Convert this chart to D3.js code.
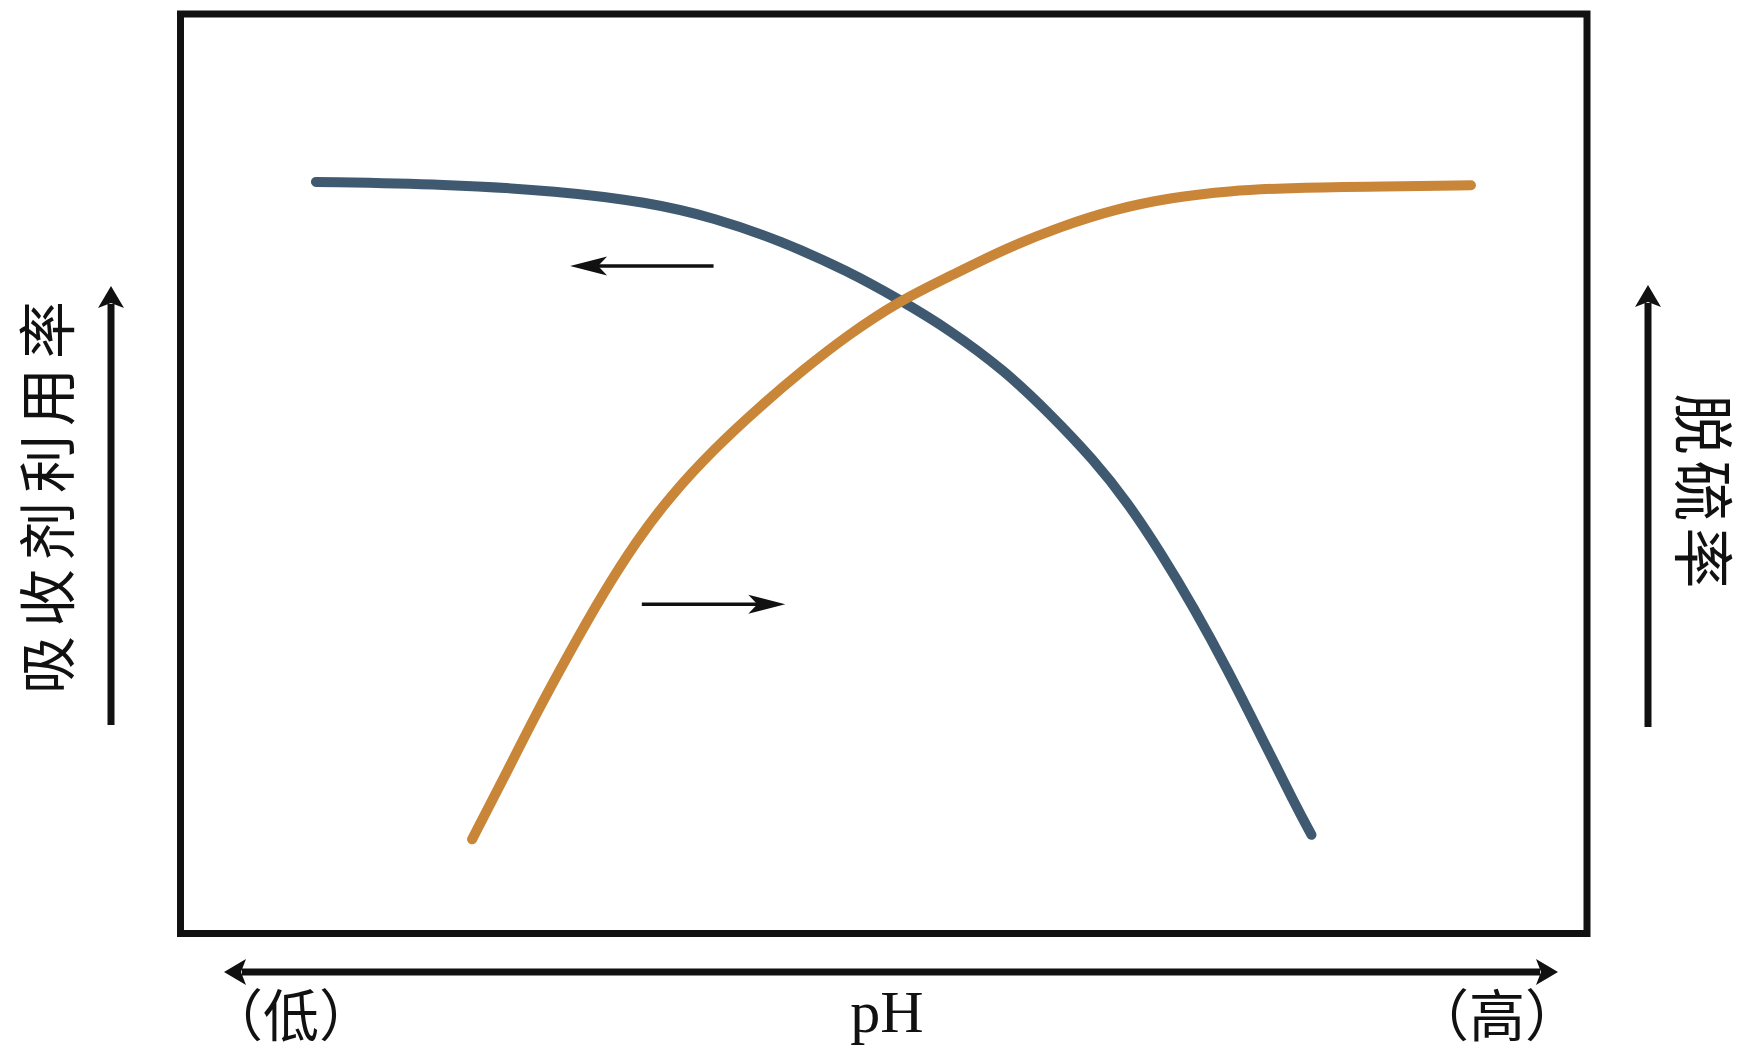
<!DOCTYPE html>
<html>
<head>
<meta charset="utf-8">
<script src="https://cdn.jsdelivr.net/npm/d3@7"></script>
<style>
  html, body { margin: 0; padding: 0; background: #fff; }
  svg { display: block; }
</style>
</head>
<body>
<div id="chart"></div>
<script>
// ---- data (relative units, 0-100 on both axes; the original has no numeric ticks) ----
const sorbentX = [9.63, 18.91, 26.85, 33.19, 37.95, 42.72, 47.47, 51.05, 54.62, 58.59, 61.76, 64.93, 67.32, 69.69, 72.07, 74.45, 76.84, 79.22, 80.41];
const sorbentY = [81.74, 81.49, 80.76, 79.55, 77.85, 75.30, 72.03, 69.00, 65.72, 61.23, 56.61, 51.52, 46.91, 41.44, 35.37, 28.69, 21.41, 14.13, 10.73];
const desulfX  = [20.73, 22.87, 25.26, 27.64, 30.02, 32.40, 34.78, 37.95, 41.13, 44.30, 47.47, 51.05, 54.62, 58.59, 62.55, 66.52, 70.49, 74.45, 79.22, 85.57, 91.75];
const desulfY  = [10.24, 16.55, 23.84, 30.52, 36.95, 42.65, 47.50, 52.73, 57.22, 61.35, 65.11, 68.75, 71.42, 74.45, 76.88, 78.82, 80.04, 80.76, 81.13, 81.25, 81.37];
const leftLabel = "吸收剂利用率";
const rightLabel = "脱硫率";
const xLabel = "pH";
const lowLabel = "（低）";
const highLabel = "（高）";
// annotation arrows: [x from, x to, y] in data units (arrow points to "x to")
const leftArrow  = [37.9, 27.7, 72.6];
const rightArrow = [32.8, 43.0, 35.8];

const W = 1750, H = 1054;
const frame = { left: 180.5, right: 1587, top: 14, bottom: 933.5 };

const svg = d3.select("#chart").append("svg").attr("width", W).attr("height", H);

const x = d3.scaleLinear().domain([0, 100]).range([frame.left, frame.right]);
const y = d3.scaleLinear().domain([0, 100]).range([frame.bottom, frame.top]);

// frame
svg.append("rect")
  .attr("x", x(0)).attr("y", y(100))
  .attr("width", x(100) - x(0)).attr("height", y(0) - y(100))
  .attr("fill", "none").attr("stroke", "#111").attr("stroke-width", 7);

const line = d3.line().x(d => x(d[0])).y(d => y(d[1])).curve(d3.curveBasis);

svg.append("path")
  .datum(sorbentX.map((v, i) => [v, sorbentY[i]]))
  .attr("d", line).attr("fill", "none")
  .attr("stroke", "#3f5a70").attr("stroke-width", 10).attr("stroke-linecap", "round");

svg.append("path")
  .datum(desulfX.map((v, i) => [v, desulfY[i]]))
  .attr("d", line).attr("fill", "none")
  .attr("stroke", "#c98638").attr("stroke-width", 10).attr("stroke-linecap", "round");

// small annotation arrows
function smallArrow(a) {
  const x1 = x(a[0]), x2 = x(a[1]), yy = y(a[2]);
  const dir = Math.sign(x2 - x1);
  const g = svg.append("g");
  g.append("line").attr("x1", x1).attr("x2", x2 - dir * 20).attr("y1", yy).attr("y2", yy)
    .attr("stroke", "#111").attr("stroke-width", 3.5);
  const L = 37, hw = 9.5, notch = 28;
  g.append("path")
    .attr("d", `M${x2},${yy} L${x2 - dir * L},${yy - hw} L${x2 - dir * notch},${yy} L${x2 - dir * L},${yy + hw} Z`)
    .attr("fill", "#111");
}
smallArrow(leftArrow);
smallArrow(rightArrow);

// big axis arrows
function bigArrow(x1, y1, x2, y2) {
  const ang = Math.atan2(y2 - y1, x2 - x1);
  const L = 22, hw = 13;
  const bx = x2 - Math.cos(ang) * L, by = y2 - Math.sin(ang) * L;
  const g = svg.append("g");
  g.append("line").attr("x1", x1).attr("y1", y1).attr("x2", bx + Math.cos(ang) * 4).attr("y2", by + Math.sin(ang) * 4)
    .attr("stroke", "#111").attr("stroke-width", 7);
  const px = -Math.sin(ang) * hw, py = Math.cos(ang) * hw;
  g.append("path")
    .attr("d", `M${x2},${y2} L${bx + px},${by + py} L${bx + Math.cos(ang) * 5},${by + Math.sin(ang) * 5} L${bx - px},${by - py} Z`)
    .attr("fill", "#111");
}
bigArrow(111, 725, 111, 286);
bigArrow(1648, 727, 1648, 285);
bigArrow(700, 972, 224, 972);
bigArrow(700, 972, 1558, 972);

// labels
const cjk = "'Noto Sans CJK SC', sans-serif";
svg.append("text")
  .attr("transform", "translate(44,493) rotate(-90)")
  .attr("text-anchor", "middle").attr("dominant-baseline", "central")
  .attr("font-family", cjk).attr("font-size", 58).attr("letter-spacing", 9)
  .attr("fill", "#111").text(leftLabel);

svg.append("text")
  .attr("transform", "translate(1706,494) rotate(90)")
  .attr("text-anchor", "middle").attr("dominant-baseline", "central")
  .attr("font-family", cjk).attr("font-size", 61).attr("letter-spacing", 6)
  .attr("fill", "#111").text(rightLabel);

svg.append("text")
  .attr("x", 291).attr("y", 1011)
  .attr("text-anchor", "middle").attr("dominant-baseline", "central")
  .attr("font-family", cjk).attr("font-size", 56)
  .attr("fill", "#111").text(lowLabel);

svg.append("text")
  .attr("x", 1497).attr("y", 1011)
  .attr("text-anchor", "middle").attr("dominant-baseline", "central")
  .attr("font-family", cjk).attr("font-size", 56)
  .attr("fill", "#111").text(highLabel);

svg.append("text")
  .attr("x", 887).attr("y", 1012)
  .attr("text-anchor", "middle").attr("dominant-baseline", "central")
  .attr("font-family", "'Liberation Serif', serif").attr("font-size", 60)
  .attr("fill", "#111").text(xLabel);
</script>
</body>
</html>
